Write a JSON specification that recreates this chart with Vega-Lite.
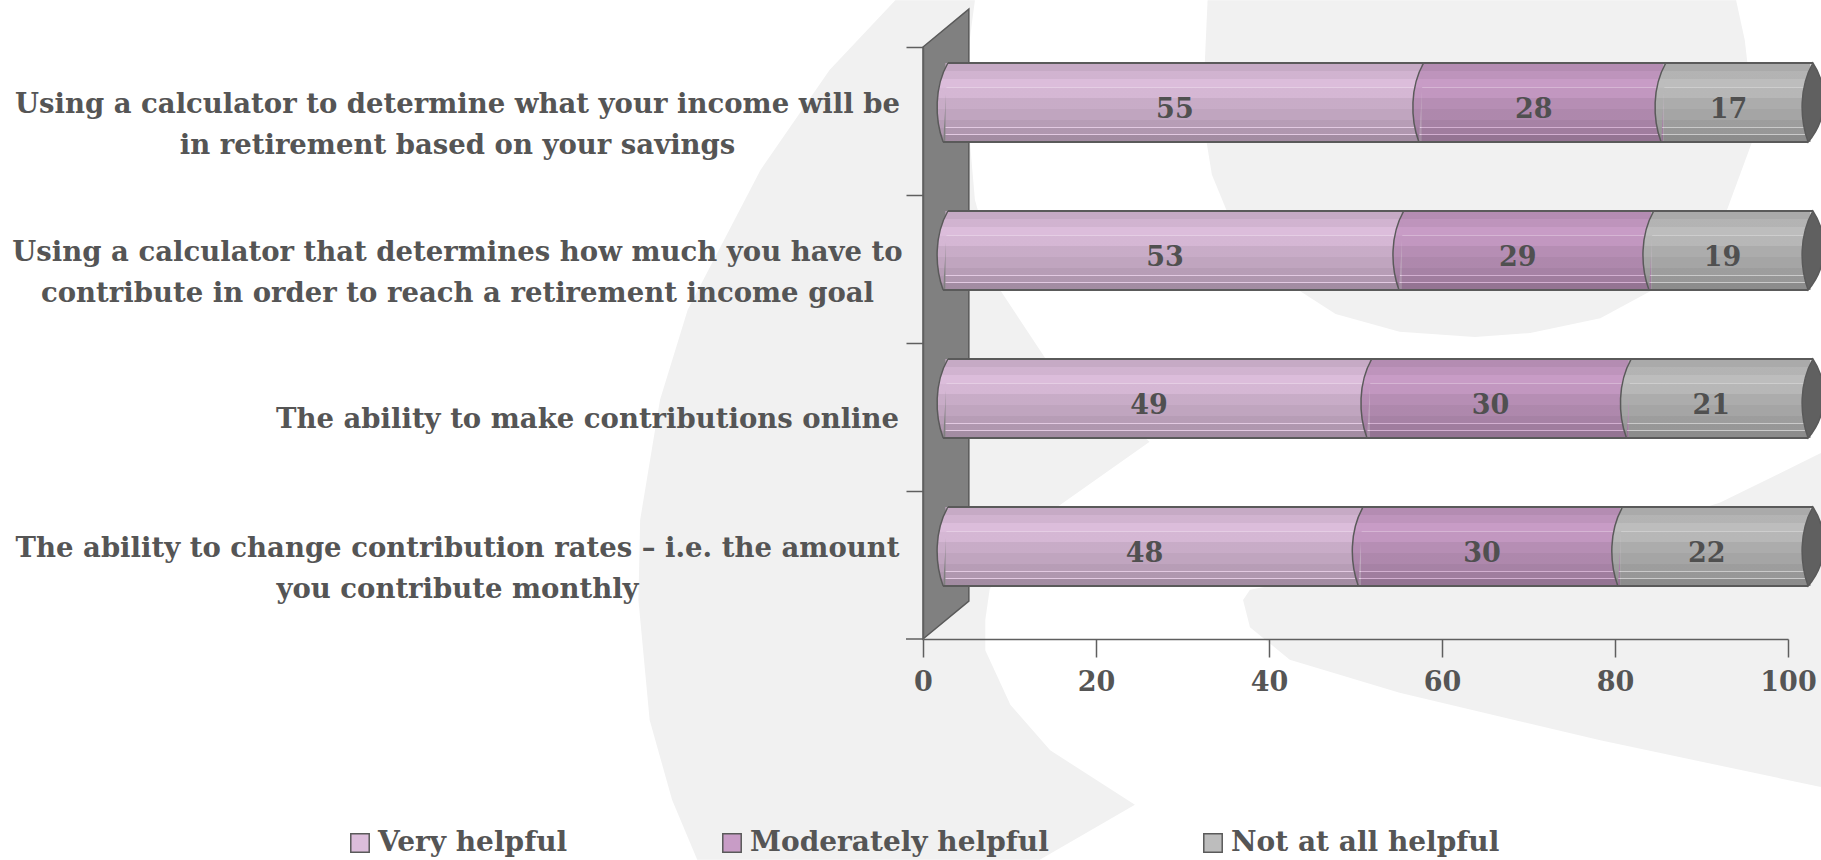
{"$schema":"https://vega.github.io/schema/vega-lite/v6.json","width":865,"height":592,"padding":{"left":923,"top":47,"right":33,"bottom":221},"autosize":"none","background":"#ffffff","config":{"view":{"stroke":null},"font":"DejaVu Serif"},
"datasets":{
"rows":[
{"q":"Using a calculator to determine what your income will be|in retirement based on your savings","s":"Very helpful","o":1,"v":55,"start":0,"label":55},
{"q":"Using a calculator to determine what your income will be|in retirement based on your savings","s":"Moderately helpful","o":2,"v":28,"start":55,"label":28},
{"q":"Using a calculator to determine what your income will be|in retirement based on your savings","s":"Not at all helpful","o":3,"v":17,"start":83,"label":17},
{"q":"Using a calculator that determines how much you have to|contribute in order to reach a retirement income goal","s":"Very helpful","o":1,"v":52.7,"start":0,"label":53},
{"q":"Using a calculator that determines how much you have to|contribute in order to reach a retirement income goal","s":"Moderately helpful","o":2,"v":28.9,"start":52.7,"label":29},
{"q":"Using a calculator that determines how much you have to|contribute in order to reach a retirement income goal","s":"Not at all helpful","o":3,"v":18.4,"start":81.6,"label":19},
{"q":"The ability to make contributions online","s":"Very helpful","o":1,"v":49,"start":0,"label":49},
{"q":"The ability to make contributions online","s":"Moderately helpful","o":2,"v":30,"start":49,"label":30},
{"q":"The ability to make contributions online","s":"Not at all helpful","o":3,"v":21,"start":79,"label":21},
{"q":"The ability to change contribution rates – i.e. the amount|you contribute monthly","s":"Very helpful","o":1,"v":48,"start":0,"label":48},
{"q":"The ability to change contribution rates – i.e. the amount|you contribute monthly","s":"Moderately helpful","o":2,"v":30,"start":48,"label":30},
{"q":"The ability to change contribution rates – i.e. the amount|you contribute monthly","s":"Not at all helpful","o":3,"v":22,"start":78,"label":22}
],
"wall":[{"part":"wall","i":0,"bx":0,"by":0},{"part":"wall","i":1,"bx":5.3,"by":6.4},{"part":"wall","i":2,"bx":5.3,"by":106.4},{"part":"wall","i":3,"bx":0,"by":100}],
"bg":[
{"part":"a","i":0,"bx":-3.2,"by":107.9},{"part":"a","i":1,"bx":-10.8,"by":96.1},{"part":"a","i":2,"bx":-18.8,"by":79.2},{"part":"a","i":3,"bx":-27.2,"by":55.6},{"part":"a","i":4,"bx":-30.4,"by":40.4},{"part":"a","i":5,"bx":-32.7,"by":20.1},{"part":"a","i":6,"bx":-32.9,"by":6.6},{"part":"a","i":7,"bx":-31.6,"by":-13.7},{"part":"a","i":8,"bx":-29,"by":-27.2},{"part":"a","i":9,"bx":-26.1,"by":-37.3},{"part":"a","i":10,"bx":13.5,"by":-37.3},{"part":"a","i":11,"bx":24.5,"by":-28},{"part":"a","i":12,"bx":14.7,"by":-18.8},{"part":"a","i":13,"bx":10.1,"by":-11.1},{"part":"a","i":14,"bx":7.2,"by":-1.9},{"part":"a","i":15,"bx":7.2,"by":3.2},{"part":"a","i":16,"bx":7.7,"by":8.3},{"part":"a","i":17,"bx":10.1,"by":15.9},{"part":"a","i":18,"bx":15.8,"by":22.6},{"part":"a","i":19,"bx":26.2,"by":33.3},{"part":"a","i":20,"bx":14.1,"by":47.5},{"part":"a","i":21,"bx":8.9,"by":59},{"part":"a","i":22,"bx":6,"by":74.2},{"part":"a","i":23,"bx":5.2,"by":87.7},{"part":"a","i":24,"bx":5.4,"by":101.2},{"part":"a","i":25,"bx":6,"by":107.9},
{"part":"b","i":0,"bx":32.9,"by":107.9},{"part":"b","i":1,"bx":32.3,"by":88.3},{"part":"b","i":2,"bx":33.4,"by":78.4},{"part":"b","i":3,"bx":35.6,"by":70.6},{"part":"b","i":4,"bx":40.7,"by":61.5},{"part":"b","i":5,"bx":47.7,"by":54.9},{"part":"b","i":6,"bx":55.1,"by":51.9},{"part":"b","i":7,"bx":63.8,"by":51},{"part":"b","i":8,"bx":70.2,"by":51.7},{"part":"b","i":9,"bx":78.3,"by":54.2},{"part":"b","i":10,"bx":84.4,"by":59},{"part":"b","i":11,"bx":88.7,"by":64.9},{"part":"b","i":12,"bx":92.9,"by":72.3},{"part":"b","i":13,"bx":95.8,"by":83.8},{"part":"b","i":14,"bx":95.8,"by":91},{"part":"b","i":15,"bx":95,"by":101.2},{"part":"b","i":16,"bx":94,"by":107.9},
{"part":"c","i":0,"bx":103.8,"by":31.4},{"part":"c","i":1,"bx":92.1,"by":23},{"part":"c","i":2,"bx":78.3,"by":16.7},{"part":"c","i":3,"bx":60.9,"by":12.5},{"part":"c","i":4,"bx":43.6,"by":10},{"part":"c","i":5,"bx":37.8,"by":8.3},{"part":"c","i":6,"bx":37,"by":6.6},{"part":"c","i":7,"bx":37.8,"by":2},{"part":"c","i":8,"bx":42.4,"by":-3.5},{"part":"c","i":9,"bx":55.1,"by":-9.1},{"part":"c","i":10,"bx":78.3,"by":-17.1},{"part":"c","i":11,"bx":103.8,"by":-25}
]},
"layer":[
{"layer":[
{"data":{"name":"bg"},"mark":{"type":"line","interpolate":"linear-closed","fill":"#f1f1f1","strokeWidth":0},
"encoding":{"x":{"field":"bx","type":"quantitative","scale":{"domain":[0,100],"nice":false},"axis":{"title":null,"values":[0,20,40,60,80,100],"grid":false,"tickSize":18,"tickColor":"#5f5f5f","tickWidth":1.5,"domainColor":"#5f5f5f","domainWidth":1.5,"labelFontSize":27,"labelFont":"DejaVu Serif","labelFontWeight":"bold","labelColor":"#555555","labelPadding":12,"zindex":1,"labelFlush":false}},
"y":{"field":"by","type":"quantitative","scale":{"domain":[0,100],"nice":false},"axis":null},"detail":{"field":"part"},"order":{"field":"i"}}},
{"data":{"name":"wall"},"mark":{"type":"line","interpolate":"linear-closed","fill":"#808080","stroke":"#5a5a5a","strokeWidth":1.5},
"encoding":{"x":{"field":"bx","type":"quantitative"},"y":{"field":"by","type":"quantitative"},"detail":{"field":"part"},"order":{"field":"i"}}},
{"data":{"name":"wall"},"transform":[{"filter":"datum.i==0"}],"mark":{"type":"rule","stroke":"#5f5f5f","strokeWidth":1.5},
"encoding":{"x":{"datum":-1.97,"type":"quantitative"},"x2":{"datum":0},"y":{"field":"by","type":"quantitative"}}}
]},
{"data":{"name":"rows"},
"encoding":{"y":{"field":"q","type":"nominal","sort":null,"title":null,"scale":{"domain":["Using a calculator to determine what your income will be|in retirement based on your savings","Using a calculator that determines how much you have to|contribute in order to reach a retirement income goal","The ability to make contributions online","The ability to change contribution rates – i.e. the amount|you contribute monthly"],"paddingInner":0.466,"paddingOuter":0.233},
"axis":{"orient":"left","title":null,"bandPosition":0,"tickOffset":-34.5,"labelOffset":34.5,"tickExtra":false,"tickSize":17,"tickColor":"#5f5f5f","tickWidth":1.5,"domainColor":"#5f5f5f","domainWidth":1.5,"labelExpr":"split(datum.label,'|')","labelAlign":"center","labelPadding":449,"labelLimit":1000,"labelLineHeight":41,"labelFontSize":27.5,"labelFont":"DejaVu Serif","labelFontWeight":"bold","labelColor":"#555555","zindex":1,"encoding":{"labels":{"dx":{"value":{"expr":"indexof(datum.value,'online')>=0 ? 130 : 0"}},"dy":{"value":{"expr":"indexof(datum.value,'online')>=0 ? 2 : -17"}}}}}}},
"layer":[
{"mark":{"type":"bar","xOffset":22.5,"x2Offset":22.5,"yOffset":-18.5,"y2Offset":-18.5},
"encoding":{"x":{"field":"v","type":"quantitative","stack":"zero"},"order":{"field":"o"},
"color":{"field":"s","type":"nominal","title":null,"scale":{"domain":["Very helpful","Moderately helpful","Not at all helpful"],"range":["#dcbddb","#c89cc6","#bdbdbd"]},
"legend":{"orient":"none","legendX":-577,"legendY":782,"direction":"horizontal","columns":3,"columnPadding":150,"symbolType":"square","symbolSize":340,"symbolStrokeColor":"#5a5a5a","symbolStrokeWidth":1.5,"labelFontSize":28,"labelFont":"DejaVu Serif","labelFontWeight":"bold","labelColor":"#555555","labelLimit":1000,"labelOffset":4,"title":null}}}},
{"mark":{"type":"bar","xOffset":22.5,"x2Offset":22.5,"yOffset":-18.5,"y2Offset":-18.5,"fill":{"gradient":"linear","x1":0,"y1":0,"x2":0,"y2":1,"stops":[{"offset":0,"color":"rgba(0,0,0,0.1)"},{"offset":0.1,"color":"rgba(0,0,0,0.1)"},{"offset":0.1,"color":"rgba(0,0,0,0.05)"},{"offset":0.2,"color":"rgba(0,0,0,0.05)"},{"offset":0.2,"color":"rgba(0,0,0,0)"},{"offset":0.3,"color":"rgba(0,0,0,0)"},{"offset":0.3,"color":"rgba(255,255,255,0.25)"},{"offset":0.315,"color":"rgba(255,255,255,0.25)"},{"offset":0.315,"color":"rgba(0,0,0,0.03)"},{"offset":0.44,"color":"rgba(0,0,0,0.03)"},{"offset":0.44,"color":"rgba(0,0,0,0.09)"},{"offset":0.58,"color":"rgba(0,0,0,0.09)"},{"offset":0.58,"color":"rgba(0,0,0,0.13)"},{"offset":0.72,"color":"rgba(0,0,0,0.13)"},{"offset":0.72,"color":"rgba(0,0,0,0.17)"},{"offset":0.81,"color":"rgba(0,0,0,0.17)"},{"offset":0.81,"color":"rgba(255,255,255,0.2)"},{"offset":0.825,"color":"rgba(255,255,255,0.2)"},{"offset":0.825,"color":"rgba(0,0,0,0.2)"},{"offset":0.9,"color":"rgba(0,0,0,0.2)"},{"offset":0.9,"color":"rgba(255,255,255,0.2)"},{"offset":0.915,"color":"rgba(255,255,255,0.2)"},{"offset":0.915,"color":"rgba(0,0,0,0.26)"},{"offset":1,"color":"rgba(0,0,0,0.26)"}]}},
"encoding":{"x":{"field":"v","type":"quantitative","stack":"zero"},"order":{"field":"o"},"detail":{"field":"s"}}},
{"mark":{"type":"point","filled":true,"opacity":1,"strokeWidth":0,"size":6241,"xOffset":22.5,"yOffset":-18.5,"shape":"M0.06,-1 C-0.28,-0.4 -0.28,0.4 -0.06,1 L0.06,-1 Z"},
"encoding":{"x":{"field":"start","type":"quantitative"},"color":{"field":"s","type":"nominal"}}},
{"mark":{"type":"point","filled":true,"opacity":1,"strokeWidth":0,"size":6241,"xOffset":22.5,"yOffset":-18.5,"shape":"M0.06,-1 C-0.28,-0.4 -0.28,0.4 -0.06,1 L0.06,-1 Z","fill":{"gradient":"linear","x1":0,"y1":0,"x2":0,"y2":1,"stops":[{"offset":0,"color":"rgba(0,0,0,0.1)"},{"offset":0.1,"color":"rgba(0,0,0,0.1)"},{"offset":0.1,"color":"rgba(0,0,0,0.05)"},{"offset":0.2,"color":"rgba(0,0,0,0.05)"},{"offset":0.2,"color":"rgba(0,0,0,0)"},{"offset":0.315,"color":"rgba(0,0,0,0)"},{"offset":0.315,"color":"rgba(0,0,0,0.03)"},{"offset":0.44,"color":"rgba(0,0,0,0.03)"},{"offset":0.44,"color":"rgba(0,0,0,0.09)"},{"offset":0.58,"color":"rgba(0,0,0,0.09)"},{"offset":0.58,"color":"rgba(0,0,0,0.13)"},{"offset":0.72,"color":"rgba(0,0,0,0.13)"},{"offset":0.72,"color":"rgba(0,0,0,0.17)"},{"offset":0.825,"color":"rgba(0,0,0,0.17)"},{"offset":0.825,"color":"rgba(0,0,0,0.2)"},{"offset":0.915,"color":"rgba(0,0,0,0.2)"},{"offset":0.915,"color":"rgba(0,0,0,0.26)"},{"offset":1,"color":"rgba(0,0,0,0.26)"}]}},
"encoding":{"x":{"field":"start","type":"quantitative"}}},
{"mark":{"type":"point","filled":false,"opacity":1,"fill":null,"stroke":"#5a5a5a","strokeWidth":1.5,"size":6241,"xOffset":22.5,"yOffset":-18.5,"shape":"M0.06,-1 C-0.28,-0.4 -0.28,0.4 -0.06,1"},
"encoding":{"x":{"field":"start","type":"quantitative"}}},
{"transform":[{"filter":"datum.o==1"}],"mark":{"type":"point","filled":true,"opacity":1,"fill":"#606060","stroke":"#5a5a5a","strokeWidth":1.5,"size":6241,"xOffset":22.5,"yOffset":-18.5,"shape":"M0.06,-1 C-0.28,-0.4 -0.28,0.4 -0.06,1 C0.45,0.4 0.45,-0.4 0.06,-1 Z"},
"encoding":{"x":{"datum":100,"type":"quantitative"}}},
{"transform":[{"filter":"datum.o==1"}],"mark":{"type":"rule","stroke":"#5a5a5a","strokeWidth":2,"xOffset":25,"x2Offset":25,"yOffset":-58},
"encoding":{"x":{"datum":0,"type":"quantitative"},"x2":{"datum":100}}},
{"transform":[{"filter":"datum.o==1"}],"mark":{"type":"rule","stroke":"#5a5a5a","strokeWidth":2,"xOffset":20,"x2Offset":20,"yOffset":21},
"encoding":{"x":{"datum":0,"type":"quantitative"},"x2":{"datum":100}}},
{"mark":{"type":"text","font":"DejaVu Serif","fontWeight":"bold","fontSize":27,"fill":"#505050","dx":14,"dy":-11,"align":"center","baseline":"middle"},
"encoding":{"x":{"field":"v","type":"quantitative","stack":"zero","bandPosition":0.5},"order":{"field":"o"},"detail":{"field":"s"},"text":{"field":"label","type":"quantitative"}}}
]}
],
"resolve":{"scale":{"y":"independent"},"axis":{"y":"independent"}}}
